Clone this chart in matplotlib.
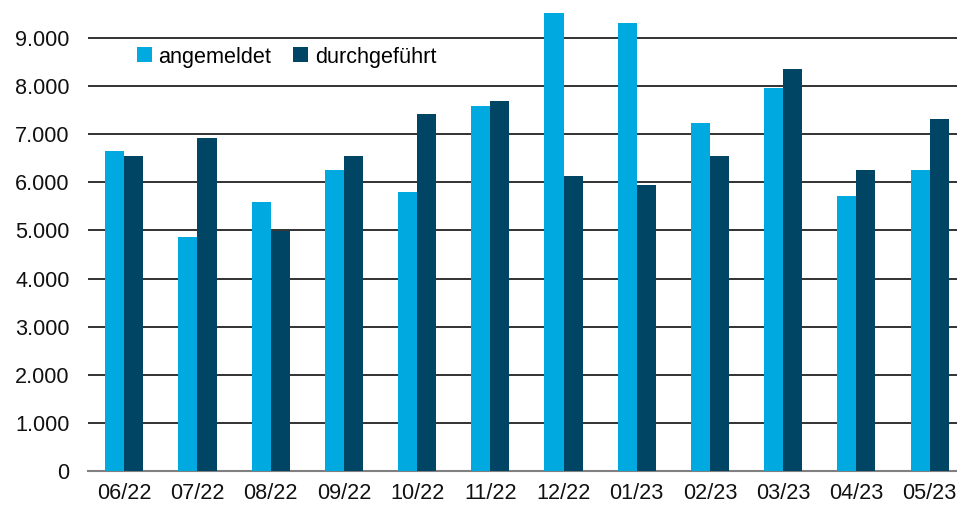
import matplotlib
matplotlib.use("Agg")
import matplotlib.pyplot as plt
import numpy as np
from matplotlib.ticker import FuncFormatter

plt.rcParams['font.family'] = ['Liberation Sans', 'DejaVu Sans']

months = ["06/22", "07/22", "08/22", "09/22", "10/22", "11/22",
          "12/22", "01/23", "02/23", "03/23", "04/23", "05/23"]
angemeldet = [6640, 4860, 5590, 6250, 5790, 7580, 9510, 9300, 7230, 7950, 5710, 6250]
durchgefuehrt = [6540, 6910, 4980, 6540, 7410, 7680, 6130, 5940, 6540, 8350, 6250, 7310]

light = "#00A9E0"
dark = "#004563"

fig = plt.figure(figsize=(9.57, 5.05), dpi=100)
ax = fig.add_axes([0.0916, 0.0667, 0.918, 0.9333])

x = np.arange(len(months))
w = 0.26
ax.bar(x - w / 2, angemeldet, width=w, color=light, label="angemeldet", zorder=3)
ax.bar(x + w / 2, durchgefuehrt, width=w, color=dark, label="durchgeführt", zorder=3)

ax.set_xlim(-0.5, len(months) - 0.5)
ax.set_ylim(0, 9778)
ax.set_yticks(np.arange(0, 9001, 1000))
ax.yaxis.set_major_formatter(FuncFormatter(lambda v, p: f"{int(v):,}".replace(",", ".")))
ax.set_xticks(x)
ax.set_xticklabels(months)

ax.grid(axis="y", color="#222222", linewidth=1.3, zorder=0)
for s in ["left", "right", "top"]:
    ax.spines[s].set_visible(False)
ax.spines["bottom"].set_color("#808080")
ax.spines["bottom"].set_linewidth(1.5)
ax.tick_params(axis="both", length=0, labelsize=15.6, colors="#111111")
ax.tick_params(axis="y", pad=13)
ax.tick_params(axis="x", pad=8.5)

leg = ax.legend(loc="center left", bbox_to_anchor=(0.056, 0.879), ncol=2, frameon=False,
                fontsize=15.6, handlelength=0.68, handleheight=0.68, handletextpad=0.32,
                columnspacing=1.0, borderpad=0, borderaxespad=0)

fig.savefig("out.png", dpi=100)
